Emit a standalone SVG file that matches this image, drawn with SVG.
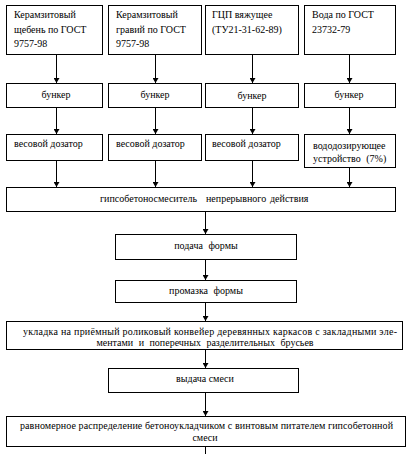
<svg xmlns="http://www.w3.org/2000/svg" width="416" height="454" viewBox="0 0 416 454">
<defs>
<marker id="ah" markerWidth="6" markerHeight="6" refX="5" refY="3" orient="auto" markerUnits="userSpaceOnUse">
<path d="M0,0 L5,3 L0,6 Z" fill="#000"/>
</marker>
<style>
rect{fill:#fff;stroke:#000;stroke-width:1}
text{font-family:'Liberation Serif','DejaVu Serif',serif;font-size:10px;fill:#000}
.c{text-anchor:middle}
#connectors line{stroke:#000;stroke-width:1;marker-end:url(#ah)}
</style>
</defs>
<rect x="0" y="0" width="416" height="454" style="stroke:none"/>
<g id="connectors">
<line x1="56.5" y1="55" x2="56.5" y2="83"/>
<line x1="155.5" y1="55" x2="155.5" y2="83"/>
<line x1="252.5" y1="55" x2="252.5" y2="83"/>
<line x1="349.5" y1="55" x2="349.5" y2="83"/>
<line x1="56.5" y1="108" x2="56.5" y2="134"/>
<line x1="155.5" y1="108" x2="155.5" y2="134"/>
<line x1="252.5" y1="108" x2="252.5" y2="134"/>
<line x1="349.5" y1="108" x2="349.5" y2="134"/>
<line x1="56.5" y1="161" x2="56.5" y2="187"/>
<line x1="155.5" y1="161" x2="155.5" y2="187"/>
<line x1="252.5" y1="161" x2="252.5" y2="187"/>
<line x1="349.5" y1="168" x2="349.5" y2="187"/>
<line x1="205.5" y1="212" x2="205.5" y2="234"/>
<line x1="205.5" y1="260" x2="205.5" y2="280"/>
<line x1="205.5" y1="303" x2="205.5" y2="321"/>
<line x1="205.5" y1="350" x2="205.5" y2="368"/>
<line x1="205.5" y1="393" x2="205.5" y2="416"/>
<line x1="205.5" y1="447" x2="205.5" y2="454" style="marker-end:none"/>
</g>
<g id="src1"><rect x="6.5" y="5.5" width="96" height="49"/><text x="14" y="18">Керамзитовый</text><text x="14" y="33">щебень по ГОСТ</text><text x="14" y="47">9757-98</text></g>
<g id="src2"><rect x="108.5" y="5.5" width="93" height="49"/><text x="116" y="18">Керамзитовый</text><text x="116" y="33">гравий по ГОСТ</text><text x="116" y="47">9757-98</text></g>
<g id="src3"><rect x="205.5" y="5.5" width="93" height="49"/><text x="212" y="18">ГЦП вяжущее</text><text x="212" y="33">(ТУ21-31-62-89)</text></g>
<g id="src4"><rect x="304.5" y="5.5" width="91" height="49"/><text x="312" y="18">Вода по ГОСТ</text><text x="312" y="33">23732-79</text></g>
<g id="b1"><rect x="6.5" y="83.5" width="96" height="24"/><text class="c" x="56" y="98">бункер</text></g>
<g id="b2"><rect x="108.5" y="83.5" width="93" height="24"/><text class="c" x="155" y="98">бункер</text></g>
<g id="b3"><rect x="205.5" y="83.5" width="93" height="24"/><text class="c" x="252" y="99">бункер</text></g>
<g id="b4"><rect x="304.5" y="83.5" width="91" height="24"/><text class="c" x="349" y="98">бункер</text></g>
<g id="d1"><rect x="6.5" y="134.5" width="96" height="26"/><text x="14" y="147">весовой дозатор</text></g>
<g id="d2"><rect x="108.5" y="134.5" width="93" height="26"/><text x="116" y="147">весовой дозатор</text></g>
<g id="d3"><rect x="205.5" y="134.5" width="93" height="26"/><text x="212" y="147">весовой дозатор</text></g>
<g id="d4"><rect x="304.5" y="134.5" width="91" height="33"/><text x="313" y="149">вододозирующее</text><text x="313" y="162" word-spacing="3">устройство (7%)</text></g>
<g id="mixer"><rect x="6.5" y="187.5" width="389" height="24"/><text y="202"><tspan x="100">гипсобетоносмеситель</tspan><tspan x="206">непрерывного</tspan><tspan x="270">действия</tspan></text></g>
<g id="feed"><rect x="115.5" y="234.5" width="181" height="25"/><text class="c" x="206" y="249" word-spacing="3">подача формы</text></g>
<g id="grease"><rect x="115.5" y="280.5" width="181" height="22"/><text class="c" x="206" y="294" word-spacing="3">промазка формы</text></g>
<g id="lay"><rect x="6.5" y="321.5" width="396" height="28"/><text x="23" y="335" textLength="374" lengthAdjust="spacing">укладка на приёмный роликовый конвейер деревянных каркасов с закладными эле-</text><text class="c" x="205" y="346" word-spacing="3">ментами и поперечных разделительных брусьев</text></g>
<g id="out"><rect x="108.5" y="368.5" width="190" height="24"/><text class="c" x="205" y="382">выдача смеси</text></g>
<g id="spread"><rect x="6.5" y="416.5" width="399" height="30"/><text x="20" y="429" textLength="373" lengthAdjust="spacing">равномерное распределение бетоноукладчиком с винтовым питателем гипсобетонной</text><text class="c" x="205" y="441">смеси</text></g>
</svg>
